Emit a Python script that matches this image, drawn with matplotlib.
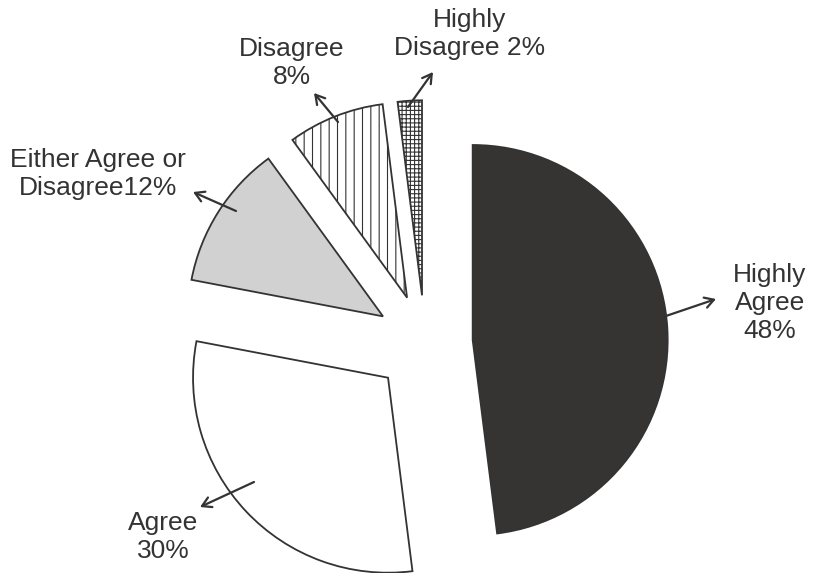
import matplotlib
matplotlib.use('Agg')
import matplotlib.pyplot as plt

plt.rcParams['font.family'] = ['Liberation Sans', 'DejaVu Sans']
plt.rcParams['hatch.linewidth'] = 0.8

# Datos del gráfico
categorias = ['Highly Agree', 'Agree', 'Either Agree or Disagree', 'Disagree', 'Highly Disagree']
porcentajes = [48, 30, 12, 8, 2]
etiquetas = ['Highly\nAgree\n48%', 'Agree\n30%', 'Either Agree or\nDisagree12%',
             'Disagree\n8%', 'Highly\nDisagree 2%']
colores = ['#353432', 'white', '#d0d1d0', 'white', 'white']
hachuras = [None, None, None, '||', '++++']
separacion = [0.245, 0.26, 0.255, 0.25, 0.245]

# posiciones en píxeles de la imagen (x, y desde arriba)
pos_texto = [(770, 303), (163, 537), (98, 174), (292, 63), (470, 34)]
flecha_ini = [(663, 317), (254, 482), (236, 211), (338, 122), (408, 107)]
flecha_fin = [(716, 299), (200, 507), (193, 192), (314, 93), (433, 72)]

W, H = 815, 573
R = 195
oscuro = '#333333'

fig = plt.figure(figsize=(W / 100, H / 100), dpi=100)
ax = fig.add_axes([0, 0, 1, 1])

# en pie() el explode va en unidades de datos, por eso se multiplica por el radio
wedges, _ = ax.pie(porcentajes, colors=colores, explode=[s * R for s in separacion],
                   startangle=90, counterclock=False, center=(425, H - 343), radius=R,
                   wedgeprops=dict(edgecolor=oscuro, linewidth=1.3))
for w, h in zip(wedges, hachuras):
    if h:
        w.set_hatch(h)

for txt, p, a, b in zip(etiquetas, pos_texto, flecha_ini, flecha_fin):
    ax.text(p[0], H - p[1], txt, ha='center', va='center', fontsize=19,
            color=oscuro, linespacing=1.2)
    ax.annotate('', xy=(b[0], H - b[1]), xytext=(a[0], H - a[1]),
                arrowprops=dict(arrowstyle='->,head_length=0.65,head_width=0.38',
                                color=oscuro, lw=1.6, shrinkA=0, shrinkB=0))

ax.set_xlim(0, W)
ax.set_ylim(0, H)
ax.set_aspect('auto')
ax.axis('off')

plt.savefig('out.png', dpi=100)
